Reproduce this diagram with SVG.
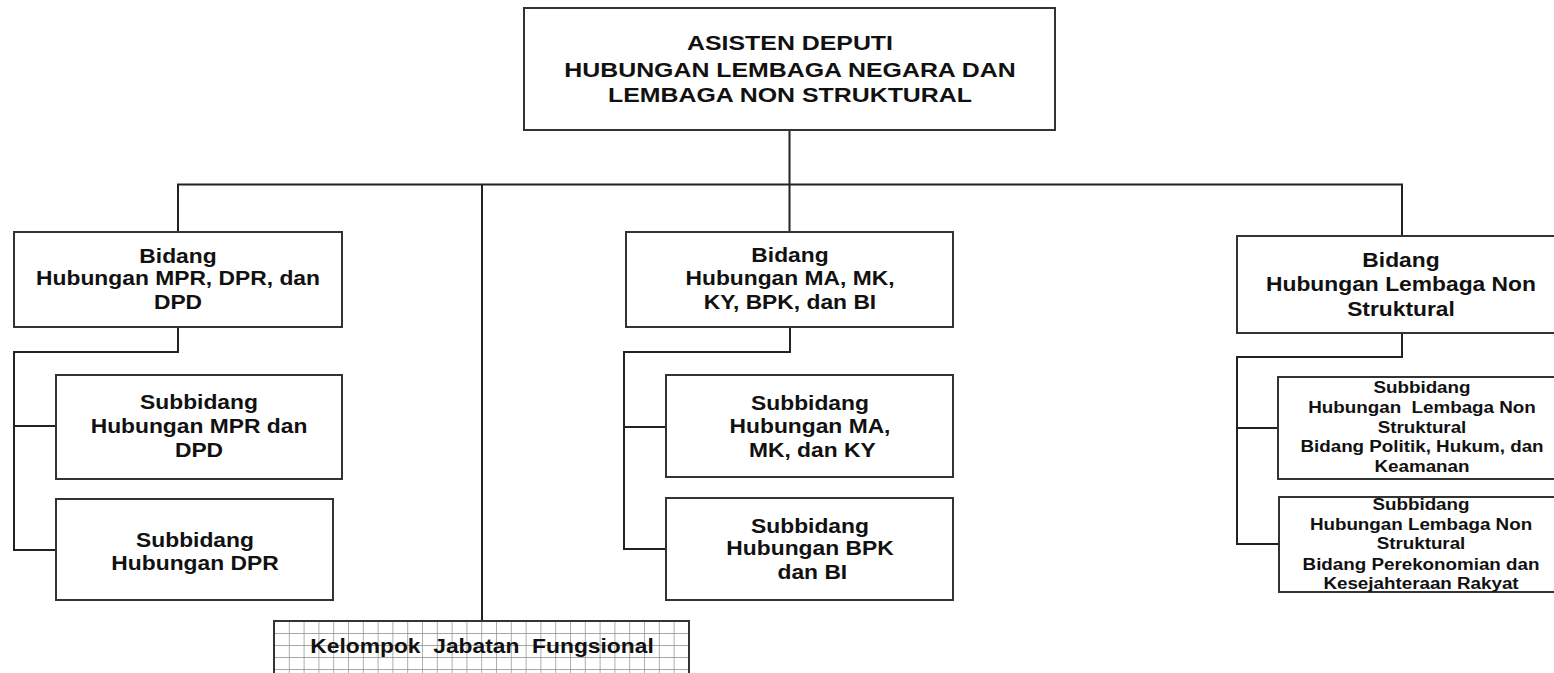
<svg xmlns="http://www.w3.org/2000/svg" width="1554" height="673" viewBox="0 0 1554 673">
  <style>
    .box { fill: #ffffff; stroke: #333333; stroke-width: 2; }
    .line { fill: none; stroke: #222222; stroke-width: 2; }
    text { font-family: "Liberation Sans", Arial, sans-serif; font-weight: bold; fill: #111111; text-anchor: middle; }
    .t-head { font-size: 21px; }
    .t-main { font-size: 19.5px; }
    .t-small { font-size: 16px; }
  </style>
  <defs>
    <pattern id="grid" x="274" y="621" width="14.8" height="12" patternUnits="userSpaceOnUse">
      <rect width="14.8" height="12" fill="#ffffff"/>
      <path d="M0 0 H14.8 M0 0 V12" stroke="#8a8a8a" stroke-width="1.4" fill="none"/>
    </pattern>
  </defs>

  <rect width="1554" height="673" fill="#ffffff"/>

  <!-- connectors -->
  <g id="connectors">
    <path class="line" d="M789.5 130 V232"/>
    <path class="line" d="M178 232 V184.5 H1402 V236"/>
    <path class="line" d="M482 184.5 V620"/>
    <path class="line" d="M178 327 V352 H14 V550 H56 M14 426 H56"/>
    <path class="line" d="M790 327 V352 H624 V549 H666 M624 427 H666"/>
    <path class="line" d="M1402 333 V357 H1237 V544 H1279 M1237 428 H1278"/>
  </g>

  <!-- labels are set in a wide face: each block is scaled horizontally about its centre -->
  <g id="asisten-deputi">
    <rect class="box" x="524" y="8" width="531" height="122"/>
    <g transform="translate(790 0) scale(1.185 1)">
      <text class="t-head" x="0" y="50">ASISTEN DEPUTI</text>
      <text class="t-head" x="0" y="76.7">HUBUNGAN LEMBAGA NEGARA DAN</text>
      <text class="t-head" x="0" y="101.7">LEMBAGA NON STRUKTURAL</text>
    </g>
  </g>

  <g id="bidang-mpr-dpr-dpd">
    <rect class="box" x="14" y="232" width="328" height="95"/>
    <g transform="translate(178 0) scale(1.17 1)">
      <text class="t-main" x="0" y="262.7">Bidang</text>
      <text class="t-main" x="0" y="285.5">Hubungan MPR, DPR, dan</text>
      <text class="t-main" x="0" y="309.3">DPD</text>
    </g>
  </g>

  <g id="subbidang-mpr-dpd">
    <rect class="box" x="56" y="375" width="286" height="104"/>
    <g transform="translate(199 0) scale(1.17 1)">
      <text class="t-main" x="0" y="409">Subbidang</text>
      <text class="t-main" x="0" y="433.3">Hubungan MPR dan</text>
      <text class="t-main" x="0" y="457.3">DPD</text>
    </g>
  </g>

  <g id="subbidang-dpr">
    <rect class="box" x="56" y="499" width="277" height="101"/>
    <g transform="translate(195 0) scale(1.17 1)">
      <text class="t-main" x="0" y="546.7">Subbidang</text>
      <text class="t-main" x="0" y="569.8">Hubungan DPR</text>
    </g>
  </g>

  <g id="bidang-ma-mk-ky-bpk-bi">
    <rect class="box" x="626" y="232" width="327" height="95"/>
    <g transform="translate(790 0) scale(1.17 1)">
      <text class="t-main" x="0" y="262">Bidang</text>
      <text class="t-main" x="0" y="285.3">Hubungan MA, MK,</text>
      <text class="t-main" x="0" y="309.3">KY, BPK, dan BI</text>
    </g>
  </g>

  <g id="subbidang-ma-mk-ky">
    <rect class="box" x="666" y="375" width="287" height="102"/>
    <g transform="translate(810 0) scale(1.17 1)">
      <text class="t-main" x="0" y="410">Subbidang</text>
      <text class="t-main" x="0" y="433.3">Hubungan MA,</text>
      <text class="t-main" x="2" y="456.6">MK, dan KY</text>
    </g>
  </g>

  <g id="subbidang-bpk-bi">
    <rect class="box" x="666" y="498" width="287" height="102"/>
    <g transform="translate(810 0) scale(1.17 1)">
      <text class="t-main" x="0" y="532.7">Subbidang</text>
      <text class="t-main" x="0" y="555.5">Hubungan BPK</text>
      <text class="t-main" x="2" y="578.8">dan BI</text>
    </g>
  </g>

  <g id="bidang-lembaga-non-struktural">
    <rect class="box" x="1237" y="236" width="330" height="97"/>
    <g transform="translate(1401 0) scale(1.17 1)">
      <text class="t-main" x="0" y="266.7">Bidang</text>
      <text class="t-main" x="0" y="290.7">Hubungan Lembaga Non</text>
      <text class="t-main" x="0" y="315.7">Struktural</text>
    </g>
  </g>

  <g id="subbidang-lns-polhukam">
    <rect class="box" x="1278" y="377" width="290" height="102"/>
    <g transform="translate(1422 0) scale(1.175 1)">
      <text class="t-small" x="0" y="393.3">Subbidang</text>
      <text class="t-small" x="0" y="413.3" xml:space="preserve">Hubungan  Lembaga Non</text>
      <text class="t-small" x="0" y="433.3">Struktural</text>
      <text class="t-small" x="0" y="452.5">Bidang Politik, Hukum, dan</text>
      <text class="t-small" x="0" y="471.7">Keamanan</text>
    </g>
  </g>

  <g id="subbidang-lns-ekonomi-kesra">
    <rect class="box" x="1279" y="497" width="290" height="95"/>
    <g transform="translate(1421 0) scale(1.175 1)">
      <text class="t-small" x="0" y="510">Subbidang</text>
      <text class="t-small" x="0" y="530">Hubungan Lembaga Non</text>
      <text class="t-small" x="0" y="549.5">Struktural</text>
      <text class="t-small" x="0" y="570">Bidang Perekonomian dan</text>
      <text class="t-small" x="0" y="589.5">Kesejahteraan Rakyat</text>
    </g>
  </g>

  <g id="kelompok-jabatan-fungsional">
    <rect x="274" y="621" width="415" height="70" fill="url(#grid)" stroke="#333333" stroke-width="2"/>
    <g transform="translate(482 0) scale(1.17 1)">
      <text class="t-main" x="0" y="653.3" xml:space="preserve">Kelompok  Jabatan  Fungsional</text>
    </g>
  </g>
</svg>
